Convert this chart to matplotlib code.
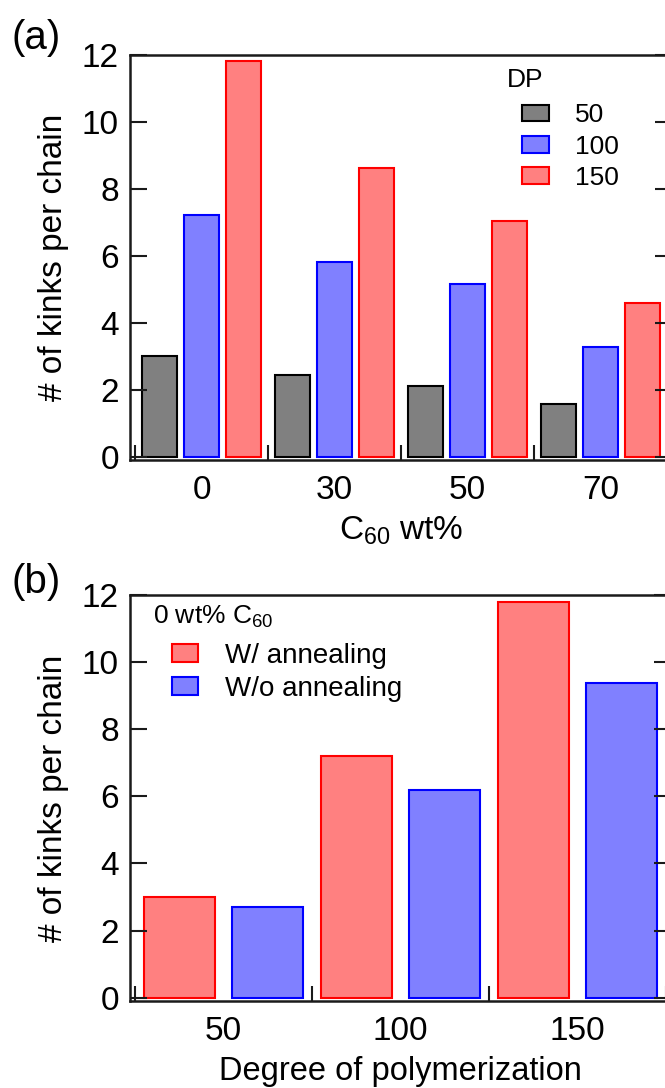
import numpy as np
import matplotlib
matplotlib.use('Agg')
import matplotlib.pyplot as plt
from matplotlib.patches import Patch

plt.rcParams['font.family'] = ['Liberation Sans', 'DejaVu Sans']
plt.rcParams['mathtext.default'] = 'regular'

# panel (a) data
c60_labels = ['0', '30', '50', '70']
dp_labels = ['50', '100', '150']
kinks_dp50 = [3.0, 2.45, 2.1, 1.58]
kinks_dp100 = [7.22, 5.81, 5.17, 3.29]
kinks_dp150 = [11.82, 8.62, 7.04, 4.58]

# panel (b) data
dp_cats = ['50', '100', '150']
kinks_anneal = [2.99, 7.2, 11.8]
kinks_no_anneal = [2.69, 6.2, 9.37]

GRAY = ('#808080', '#000000')
BLUE = ('#8080ff', '#0000ff')
RED = ('#ff8080', '#ff0000')

W, H = 665, 1088
fig = plt.figure(figsize=(W / 100, H / 100), dpi=100)


def px_axes(left, right, top, bottom):
    return fig.add_axes([left / W, 1 - bottom / H, (right - left) / W, (bottom - top) / H])


def style_axes(ax, ncat):
    for s in ax.spines.values():
        s.set_linewidth(1.8)
        s.set_color('#1a1a1a')
    ax.set_ylim(-0.1, 12)
    ax.set_yticks(np.arange(0, 13, 2))
    ax.tick_params(axis='y', which='major', direction='in', length=12, width=1.5,
                   labelsize=24, pad=8, left=True, right=True, color='#1a1a1a')
    ax.set_xticks(np.arange(ncat))
    ax.set_xticks(np.arange(ncat + 1) - 0.5, minor=True)
    ax.tick_params(axis='x', which='major', length=0, labelsize=24, pad=11)
    ax.tick_params(axis='x', which='minor', direction='in', length=11, width=1.5,
                   color='#1a1a1a')


# ---- (a)
ax1 = px_axes(130, 672, 55, 460)
x = np.arange(len(c60_labels))
off = 0.316
bw = 0.265
for vals, (fc, ec), d in [(kinks_dp50, GRAY, -off), (kinks_dp100, BLUE, 0), (kinks_dp150, RED, off)]:
    ax1.bar(x + d, vals, bw, color=fc, edgecolor=ec, linewidth=1.5)
ax1.set_xlim(-0.538, 3.538)
style_axes(ax1, len(c60_labels))
ax1.set_xticklabels(c60_labels)
ax1.set_ylabel('# of kinks per chain', fontsize=24, labelpad=9)
ax1.set_xlabel('C$_{60}$ wt%', fontsize=24, labelpad=6)

h1 = [Patch(facecolor=c[0], edgecolor=c[1], linewidth=1.5) for c in (GRAY, BLUE, RED)]
fig.text(507 / W, 1 - 80 / H, 'DP', fontsize=19, va='center', ha='left')
ax1.legend(h1, dp_labels, loc='upper left', bbox_to_anchor=(509 / W, 1 - 90 / H),
           bbox_transform=fig.transFigure, frameon=False, borderpad=0,
           handlelength=1.0, handleheight=0.6, handletextpad=1.0,
           labelspacing=0.28, fontsize=19)

# ---- (b)
ax2 = px_axes(130, 671, 595, 1001)
x2 = np.arange(len(dp_cats))
off2 = 0.248
bw2 = 0.40
ax2.bar(x2 - off2, kinks_anneal, bw2, color=RED[0], edgecolor=RED[1], linewidth=1.5)
ax2.bar(x2 + off2, kinks_no_anneal, bw2, color=BLUE[0], edgecolor=BLUE[1], linewidth=1.5)
ax2.set_xlim(-0.528, 2.528)
style_axes(ax2, len(dp_cats))
ax2.set_xticklabels(dp_cats)
ax2.set_ylabel('# of kinks per chain', fontsize=24, labelpad=9)
ax2.set_xlabel('Degree of polymerization', fontsize=23.5, labelpad=6)

fig.text(153 / W, 1 - 617 / H, '0 wt% C$_{60}$', fontsize=19, va='center', ha='left')
h2 = [Patch(facecolor=c[0], edgecolor=c[1], linewidth=1.5) for c in (RED, BLUE)]
ax2.legend(h2, ['W/ annealing', 'W/o annealing'], loc='upper left',
           bbox_to_anchor=(158 / W, 1 - 629 / H), bbox_transform=fig.transFigure,
           frameon=False, borderpad=0, handlelength=0.95, handleheight=0.6,
           handletextpad=0.95, labelspacing=0.25, fontsize=20)

fig.text(12 / W, 1 - 38 / H, '(a)', fontsize=29, va='center', ha='left')
fig.text(12 / W, 1 - 582 / H, '(b)', fontsize=29, va='center', ha='left')

plt.savefig('out.png', dpi=100)
